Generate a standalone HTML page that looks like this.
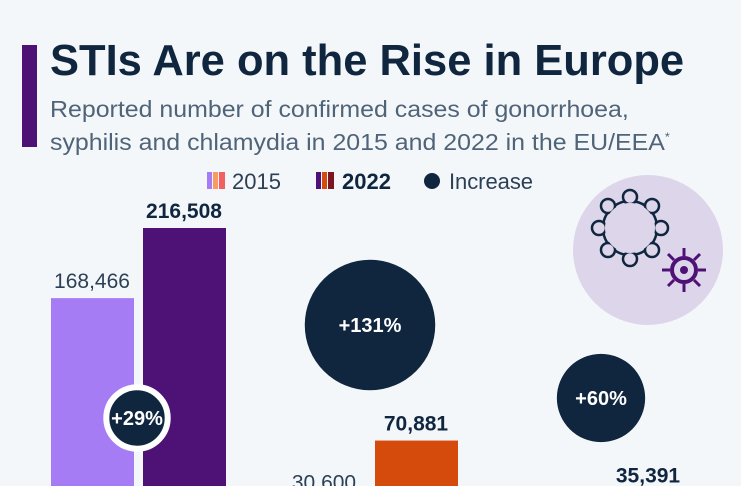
<!DOCTYPE html>
<html><head><meta charset="utf-8"><style>
html,body{margin:0;padding:0;}
body{width:741px;height:486px;overflow:hidden;background:#f4f7fa;font-family:"Liberation Sans",sans-serif;position:relative;}
.t{position:absolute;white-space:nowrap;transform-origin:0 0;}
</style></head><body>
<div style="position:absolute;left:22px;top:45px;width:15px;height:102px;background:#4e1277;"></div>
<div class="t" style="left:50px;top:37px;font-size:43.5px;font-weight:bold;color:#10263f;">STIs Are on the Rise in Europe</div>
<div class="t" style="left:50px;top:95px;font-size:23.5px;line-height:28px;color:#4f6478;transform:scaleX(1.06);">Reported number of confirmed cases of gonorrhoea,<br>syphilis and chlamydia in 2015 and 2022 in the EU/EEA<sup style="font-size:12px">*</sup></div>
<svg width="741" height="486" style="position:absolute;left:0;top:0">
<g font-family="Liberation Sans, sans-serif" font-size="22" fill="#10263f">
<rect x="207" y="172" width="5" height="17" fill="#a67cf5"/><rect x="213" y="172" width="5" height="17" fill="#f99a63"/><rect x="219" y="172" width="6" height="17" fill="#f26060"/>
<text x="232" y="189" fill="#2b3f55">2015</text>
<rect x="316" y="172" width="5" height="17" fill="#4e1277"/><rect x="322" y="172" width="5" height="17" fill="#d54b0c"/><rect x="328" y="172" width="6" height="17" fill="#7c1522"/>
<text x="342" y="189" font-weight="bold">2022</text>
<circle cx="432" cy="181" r="8" fill="#10263f"/>
<text x="449" y="189" fill="#2b3f55" textLength="84">Increase</text>
</g>
<g>
<circle cx="648" cy="250" r="75" fill="#ddd5ea"/>
<circle cx="630" cy="228" r="27" fill="none" stroke="#10263f" stroke-width="2.5"/>
<g fill="#ddd5ea" stroke="#10263f" stroke-width="2.5">
<circle cx="630" cy="197" r="7"/><circle cx="652" cy="206" r="7"/><circle cx="661" cy="228" r="7"/><circle cx="652" cy="250" r="7"/><circle cx="630" cy="259" r="7"/><circle cx="608" cy="250" r="7"/><circle cx="599" cy="228" r="7"/><circle cx="608" cy="206" r="7"/>
</g>
<circle cx="630" cy="228" r="25" fill="#ddd5ea"/>
<circle cx="684" cy="270" r="12" fill="none" stroke="#4e1277" stroke-width="4"/>
<circle cx="684" cy="270" r="4" fill="#4e1277"/>
<path d="M684 248v8M684 284v8M662 270h8M698 270h8M668 254l6 6M694 280l6 6M700 254l-6 6M668 286l6-6" stroke="#4e1277" stroke-width="3"/>
</g>
<g id="plot"></g>
</svg>
<script>
const groups=["gonorrhoea","syphilis","chlamydia"];
const v2015=[168466,30600,22120];
const v2022=[216508,70881,35391];
const increase=[29,131,60];
const labels2015=["168,466","30,600","22,120"];
const labels2022=["216,508","70,881","35,391"];
const c2015=["#a67cf5","#f99a63","#f26060"];
const c2022=["#4e1277","#d54b0c","#7c1522"];
const NS="http://www.w3.org/2000/svg";
const base=544, k=316/216508;
const y=v=>base-v*k;
const gx=[51,283,515];
const bubblePos=[[137,418],[370,325],[601,398]];
const g=document.getElementById('plot');
function mk(t,a){const e=document.createElementNS(NS,t);for(const n in a)e.setAttribute(n,a[n]);g.appendChild(e);return e;}
groups.forEach((name,i)=>{
 const r1=mk('rect',{x:gx[i],y:y(v2015[i]),width:83,height:v2015[i]*k,fill:c2015[i]});
 
 
 const r2=mk('rect',{x:gx[i]+92,y:y(v2022[i]),width:83,height:v2022[i]*k,fill:c2022[i]});
 
 
 const t1=mk('text',{x:gx[i]+41,y:y(v2015[i])-10,'text-anchor':'middle','font-size':21,fill:'#2b3f55','font-family':'Liberation Sans, sans-serif'});
 t1.textContent=labels2015[i];
 
 
 const t2=mk('text',{x:gx[i]+133,y:y(v2022[i])-10,'text-anchor':'middle','font-size':21,'font-weight':'bold',fill:'#10263f','font-family':'Liberation Sans, sans-serif'});
 t2.textContent=labels2022[i];
 
 
 const r=5.7*Math.sqrt(increase[i]);
 const c=mk('circle',{cx:bubblePos[i][0],cy:bubblePos[i][1],r:r,fill:'#10263f',stroke:i===0?'#ffffff':'none','stroke-width':i===0?6:0});
 
 
 const bt=mk('text',{x:bubblePos[i][0],y:bubblePos[i][1]+7,'text-anchor':'middle','font-size':20,'font-weight':'bold',fill:'#ffffff','font-family':'Liberation Sans, sans-serif'});
 bt.textContent='+'+increase[i]+'%';
 
 
});
</script>
</body></html>
